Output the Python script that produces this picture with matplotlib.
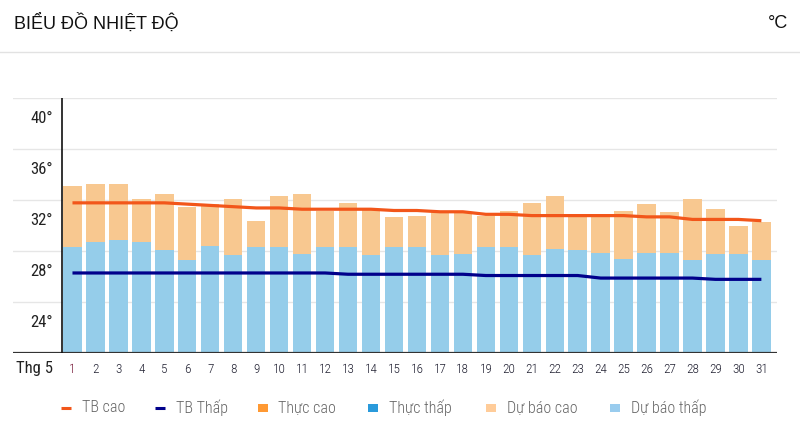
import matplotlib
matplotlib.use("Agg")
import matplotlib.pyplot as plt
from matplotlib.lines import Line2D
from matplotlib.patches import Rectangle
import matplotlib.transforms as mtransforms

COND = ['Roboto Condensed', 'DejaVu Sans']
plt.rcParams['font.family'] = COND

days = list(range(1, 32))
day_labels = [str(d) for d in days]
forecast_high = [33.1, 33.3, 33.3, 32.1, 32.5, 31.5, 31.7, 32.1, 30.4, 32.3, 32.5, 31.2,
                 31.8, 31.3, 30.7, 30.8, 31.1, 31.1, 30.8, 31.2, 31.8, 32.3, 30.8, 30.8,
                 31.2, 31.7, 31.1, 32.1, 31.3, 30.0, 30.3]
forecast_low = [28.3, 28.7, 28.9, 28.7, 28.1, 27.3, 28.4, 27.7, 28.3, 28.3, 27.8, 28.3,
                28.3, 27.7, 28.3, 28.3, 27.7, 27.8, 28.3, 28.3, 27.7, 28.2, 28.1, 27.9,
                27.4, 27.9, 27.9, 27.3, 27.8, 27.8, 27.3]
avg_high = [31.8, 31.8, 31.8, 31.8, 31.8, 31.7, 31.6, 31.5, 31.4, 31.4, 31.3, 31.3,
            31.3, 31.3, 31.2, 31.2, 31.1, 31.1, 30.9, 30.9, 30.8, 30.8, 30.8, 30.8,
            30.8, 30.7, 30.7, 30.5, 30.5, 30.5, 30.4]
avg_low = [26.3] * 12 + [26.2] * 6 + [26.1] * 5 + [25.9] * 5 + [25.8] * 3
y_ticks = [24, 28, 32, 36, 40]
y_tick_labels = ["24°", "28°", "32°", "36°", "40°"]
legend_labels = ["TB cao", "TB Thấp", "Thực cao", "Thực thấp", "Dự báo cao", "Dự báo thấp"]

W, H = 800, 446
fig = plt.figure(figsize=(8, 4.46), dpi=100)
ax_l, ax_r, ax_t, ax_b = 13, 777, 98.3, 353.3
ax = fig.add_axes([ax_l / W, 1 - ax_b / H, (ax_r - ax_l) / W, (ax_b - ax_t) / H])
ax.set_xlim(-1.59, 31.68)
ax.set_ylim(20, 40)
ax.axis('off')

for v in y_ticks:
    ax.axhline(v, color='#E6E6E6', lw=1, zorder=0)

ax.bar(days, [h - 20 for h in forecast_high], bottom=20, width=0.8, color='#F8C890', zorder=2)
ax.bar(days, [l - 20 for l in forecast_low], bottom=20, width=0.8, color='#95CDEA', zorder=3)
ax.plot(days, avg_high, color='#F2561A', lw=2.3, zorder=5, solid_capstyle='butt')
ax.plot(days, avg_low, color='#00008B', lw=2.3, zorder=5, solid_capstyle='butt')

ax.axhline(20, color='#333333', lw=1.6, zorder=6)
ax.axvline(0.545, color='#111111', lw=1.2, zorder=6)

tr_y = mtransforms.blended_transform_factory(ax.transAxes, ax.transData)
for v, lab in zip(y_ticks, y_tick_labels):
    ax.text((53 - ax_l) / (ax_r - ax_l), v - 1.57, lab, transform=tr_y, ha='right', va='center',
            fontsize=12, color='#222222')

tr_x = mtransforms.blended_transform_factory(ax.transData, fig.transFigure)
for d, lab in zip(days, day_labels):
    ax.text(d, 1 - 369.5 / H, lab, transform=tr_x, ha='center', va='center', fontsize=9.5,
            fontweight='light', color='#7A1F3D' if d == 1 else '#222233', clip_on=False)
fig.text(35 / W, 1 - 369 / H, "Thg 5", ha='center', va='center', fontsize=12, color='#222222')

fig.text(14 / W, 1 - 23 / H, "BIỂU ĐỒ NHIỆT ĐỘ", ha='left', va='center', fontsize=13,
         color='#111111', family=['Liberation Sans', 'DejaVu Sans'])
fig.text(788 / W, 1 - 23 / H, "°C", ha='right', va='center', fontsize=13, color='#111111',
         family=['Liberation Sans', 'DejaVu Sans'])
fig.add_artist(Line2D([0, 1], [1 - 52 / H, 1 - 52 / H], transform=fig.transFigure, color='#E2E2E2', lw=1))

# legend
ly = 1 - 408 / H
items = [
    ('line', '#F2561A', 61, 82),
    ('line', '#00008B', 155, 176),
    ('sq', '#FF9933', 258, 278),
    ('sq', '#2A9ADB', 368, 389),
    ('sq', '#FFCC99', 486, 507),
    ('sq', '#99CCEE', 610, 631),
]
for (kind, col, mx, tx), lab in zip(items, legend_labels):
    if kind == 'line':
        fig.add_artist(Line2D([mx / W, (mx + 10) / W], [ly, ly], transform=fig.transFigure,
                              color=col, lw=2.2, solid_capstyle='butt'))
    else:
        fig.add_artist(Rectangle((mx / W, ly - 4 / H), 10 / W, 8 / H, transform=fig.transFigure,
                                 color=col, lw=0))
    fig.text(tx / W, ly, lab, ha='left', va='center', fontsize=11.5, fontweight='light', color='#666666')

fig.savefig("out.png", dpi=100)
